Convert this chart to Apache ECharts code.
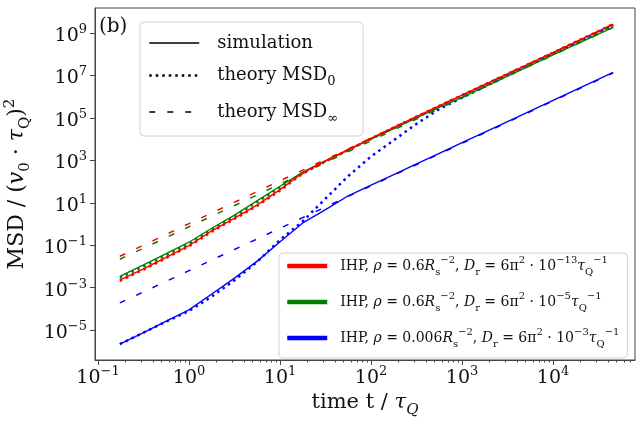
<!DOCTYPE html>
<html>
<head>
<meta charset="utf-8">
<script src="https://cdn.jsdelivr.net/npm/echarts@6/dist/echarts.min.js"></script>
<style>html,body{margin:0;padding:0;background:#fff}#main{width:641px;height:421px}</style>
</head>
<body>
<div id="main"></div>
<script>
// log10 of time t / tau_Q, shared by every curve
var logT = [-0.76, -0.5, -0.25, 0, 0.25, 0.5, 0.75, 1, 1.25, 1.5, 1.75, 2, 2.25, 2.5, 2.75, 3, 3.5, 4, 4.66];

// log10 of MSD
var redSim   = [-2.65, -2.12, -1.57, -1.02, -0.32, 0.28, 0.9, 1.62, 2.42, 2.98, 3.5, 4.03, 4.55, 5.06, 5.57, 6.07, 7.08, 8.08, 9.42];
var redMsd0  = [-2.68, -2.15, -1.6, -1.05, -0.36, 0.24, 0.86, 1.58, 2.38, 2.96, 3.49, 4.02, 4.55, 5.06, 5.57, 6.07, 7.08, 8.08, 9.42];
var redInf   = [-1.52, -1.0, -0.49, 0.02, 0.52, 1.03, 1.53, 2.04, 2.54, 3.04, 3.54, 4.05, 4.55, 5.06, 5.56, 6.07, 7.08, 8.08, 9.4];
var greenSim  = [-2.47, -1.93, -1.4, -0.86, -0.2, 0.42, 1.1, 1.78, 2.45, 2.98, 3.49, 4.0, 4.5, 5.0, 5.5, 5.97, 6.97, 7.97, 9.27];
var greenMsd0 = [-2.54, -2.0, -1.47, -0.93, -0.27, 0.36, 1.04, 1.72, 2.41, 2.96, 3.49, 4.01, 4.52, 5.03, 5.54, 6.04, 7.05, 8.05, 9.38];
var greenInf  = [-1.66, -1.14, -0.64, -0.13, 0.37, 0.87, 1.37, 1.88, 2.39, 2.9, 3.41, 3.92, 4.43, 4.94, 5.44, 5.95, 6.96, 7.96, 9.27];
var blueSim  = [-5.66, -5.12, -4.58, -4.05, -3.3, -2.55, -1.75, -0.84, 0.05, 0.68, 1.33, 1.83, 2.33, 2.83, 3.33, 3.83, 4.83, 5.83, 7.15];
var blueMsd0 = [-5.66, -5.12, -4.6, -4.1, -3.42, -2.65, -1.78, -0.75, 0.13, 1.2, 2.26, 3.18, 3.95, 4.72, 5.42, 5.95, 7.0, 8.02, 9.35];
var blueInf  = [-3.72, -3.2, -2.7, -2.2, -1.7, -1.2, -0.7, -0.2, 0.3, 0.8, 1.3, 1.8, 2.3, 2.8, 3.3, 3.8, 4.8, 5.8, 7.12];

// tick exponents (labels are 10^n)
var xTickExp = [-1, 0, 1, 2, 3, 4];
var yTickExp = [-5, -3, -1, 1, 3, 5, 7, 9];

var FONT = 'DejaVu Serif';
var INK = '#111';
var X_MIN = -1.033, X_MAX = 4.90, Y_MIN = -6.41, Y_MAX = 10.18;

var xMinor = [];
for (var n = -2; n <= 4; n++) {
  for (var k = 2; k <= 9; k++) {
    var v = n + Math.log10(k);
    if (v > X_MIN && v < X_MAX) xMinor.push(v);
  }
}

function expText(v) {
  return '{b|10}{s|' + String(Math.round(v)).replace('-', '\u2212') + '}';
}
function pairs(ys) {
  return logT.map(function (x, i) { return [x, ys[i]]; });
}

var styles = {
  sim:  { width: 1.4, type: 'solid' },
  msd0: { width: 2.5, type: [2.5, 4] },
  inf:  { width: 1.5, type: [6, 12] }
};
function line(name, ys, color, kind) {
  return {
    name: name, type: 'line', data: pairs(ys), symbol: 'none',
    lineStyle: { color: color, width: styles[kind].width, type: styles[kind].type },
    itemStyle: { color: color },
    emphasis: { disabled: true }, z: 2
  };
}
function dummy(name, kind) {
  return {
    name: name, type: 'line', data: [], symbol: 'none',
    lineStyle: { color: '#000', width: styles[kind].width, type: styles[kind].type },
    itemStyle: { color: '#000' }
  };
}

var tickRich = {
  b: { fontFamily: FONT, fontSize: 19, lineHeight: 26, color: INK },
  s: { fontFamily: FONT, fontSize: 13, lineHeight: 12, verticalAlign: 'top', color: INK }
};
var mathRich = function (size) {
  return {
    n: { fontFamily: FONT, fontSize: size, lineHeight: size + 8, color: INK },
    i: { fontFamily: FONT, fontSize: size, fontStyle: 'italic', lineHeight: size + 8, color: INK },
    sub: { fontFamily: FONT, fontSize: Math.round(size * 0.7), lineHeight: size * 0.55 + 8, verticalAlign: 'bottom', color: INK },
    isub: { fontFamily: FONT, fontSize: Math.round(size * 0.7), fontStyle: 'italic', lineHeight: size * 0.55 + 8, verticalAlign: 'bottom', color: INK },
    sup: { fontFamily: FONT, fontSize: Math.round(size * 0.7), lineHeight: size * 0.55, verticalAlign: 'top', color: INK },
    gap: { width: 8 }
  };
};

var legendText = {
  simulation: '{gap| }{n|simulation}',
  msd0: '{gap| }{n|theory MSD}{sub|0}',
  msdInf: '{gap| }{n|theory MSD}{sub|\u221e}',
  ihpRed: '{gap| }{n|IHP, }{i|\u03c1}{n| = 0.6}{i|R}{sub|s}{sup|\u22122}{n|, }{i|D}{sub|r}{n| = 6\u03c0}{sup|2}{n| \u00b7 10}{sup|\u221213}{i|\u03c4}{sub|Q}{sup|\u22121}',
  ihpGreen: '{gap| }{n|IHP, }{i|\u03c1}{n| = 0.6}{i|R}{sub|s}{sup|\u22122}{n|, }{i|D}{sub|r}{n| = 6\u03c0}{sup|2}{n| \u00b7 10}{sup|\u22125}{i|\u03c4}{sub|Q}{sup|\u22121}',
  ihpBlue: '{gap| }{n|IHP, }{i|\u03c1}{n| = 0.006}{i|R}{sub|s}{sup|\u22122}{n|, }{i|D}{sub|r}{n| = 6\u03c0}{sup|2}{n| \u00b7 10}{sup|\u22123}{i|\u03c4}{sub|Q}{sup|\u22121}'
};

var rich1 = mathRich(18); rich1.gap = { width: 13 };
var rich2 = mathRich(14); rich2.gap = { width: 8 };
var noMark = { opacity: 0 };

var option = {
  animation: false,
  backgroundColor: '#fff',
  grid: {
    left: 95, right: 6, top: 8, bottom: 61, outerBoundsMode: 'none', containLabel: false,
    show: true, borderColor: '#444', borderWidth: 1, backgroundColor: 'transparent'
  },
  xAxis: [{
    type: 'value', min: X_MIN, max: X_MAX, position: 'bottom',
    axisLine: { show: true, onZero: false, lineStyle: { color: '#444', width: 1 } },
    axisTick: { show: true, length: 5, inside: false, customValues: xTickExp, lineStyle: { color: '#444' } },
    axisLabel: { customValues: xTickExp, formatter: expText, rich: tickRich, margin: 5 },
    splitLine: { show: false },
    name: '{n|time t / }{i|\u03c4}{isub|Q}', nameLocation: 'middle', nameGap: 26,
    nameTextStyle: { rich: mathRich(21) }
  }, {
    type: 'value', min: X_MIN, max: X_MAX, position: 'bottom', offset: 0,
    axisLine: { show: false, onZero: false },
    axisTick: { show: true, length: 2.5, customValues: xMinor, lineStyle: { color: '#444' } },
    axisLabel: { show: false },
    splitLine: { show: false }
  }],
  yAxis: [{
    type: 'value', min: Y_MIN, max: Y_MAX,
    axisLine: { show: true, onZero: false, lineStyle: { color: '#444', width: 1 } },
    axisTick: { show: true, length: 5, customValues: yTickExp, lineStyle: { color: '#444' } },
    axisLabel: { customValues: yTickExp, formatter: expText, rich: tickRich, margin: 8, padding: [6, 0, 0, 0] },
    splitLine: { show: false },
    name: '{n|MSD / (}{i|v}{sub|0}{n| \u00b7 }{i|\u03c4}{sub|Q}{n|)}{sup|2}', nameLocation: 'middle', nameGap: 27,
    nameTextStyle: { rich: mathRich(22) }
  }],
  legend: [{
    orient: 'vertical', left: 140, top: 22,
    padding: [12, 25, 11, 8], itemGap: 14.5, itemWidth: 50, itemHeight: 14,
    backgroundColor: 'rgba(255,255,255,0.8)', borderColor: '#d4d4d4', borderWidth: 1, borderRadius: 4,
    data: [
      { name: 'simulation', itemStyle: noMark, lineStyle: { color: '#000', width: 1.4, type: 'solid' } },
      { name: 'msd0', itemStyle: noMark, lineStyle: { color: '#000', width: 2.5, type: [2.5, 4] } },
      { name: 'msdInf', itemStyle: noMark, lineStyle: { color: '#000', width: 1.5, type: [6, 12] } }
    ],
    formatter: function (name) { return legendText[name]; },
    textStyle: { rich: rich1 },
    selectedMode: false
  }, {
    orient: 'vertical', left: 279, top: 253,
    padding: [2, 8, 9, 6], itemGap: 14, itemWidth: 40, itemHeight: 14,
    backgroundColor: 'rgba(255,255,255,0.8)', borderColor: '#d4d4d4', borderWidth: 1, borderRadius: 4,
    data: [
      { name: 'ihpRed', itemStyle: noMark, lineStyle: { width: 4.5 } },
      { name: 'ihpGreen', itemStyle: noMark, lineStyle: { width: 4.5 } },
      { name: 'ihpBlue', itemStyle: noMark, lineStyle: { width: 4.5 } }
    ],
    formatter: function (name) { return legendText[name]; },
    textStyle: { rich: rich2 },
    selectedMode: false
  }],
  graphic: [{
    type: 'text', left: 99, top: 17,
    style: { text: '(b)', font: '20px "DejaVu Serif"', fill: INK }
  }],
  series: [
    line('ihpBlue', blueSim, '#0000ff', 'sim'),
    line('blueMsd0', blueMsd0, '#0000ff', 'msd0'),
    line('blueInf', blueInf, '#0000ff', 'inf'),
    line('ihpGreen', greenSim, '#008000', 'sim'),
    line('greenMsd0', greenMsd0, '#008000', 'msd0'),
    line('greenInf', greenInf, '#008000', 'inf'),
    line('ihpRed', redSim, '#ff0000', 'sim'),
    line('redMsd0', redMsd0, '#ff0000', 'msd0'),
    line('redInf', redInf, '#ff0000', 'inf'),
    dummy('simulation', 'sim'),
    dummy('msd0', 'msd0'),
    dummy('msdInf', 'inf')
  ]
};

var myChart = echarts.init(document.getElementById('main'));
myChart.setOption(option);
</script>
</body>
</html>
